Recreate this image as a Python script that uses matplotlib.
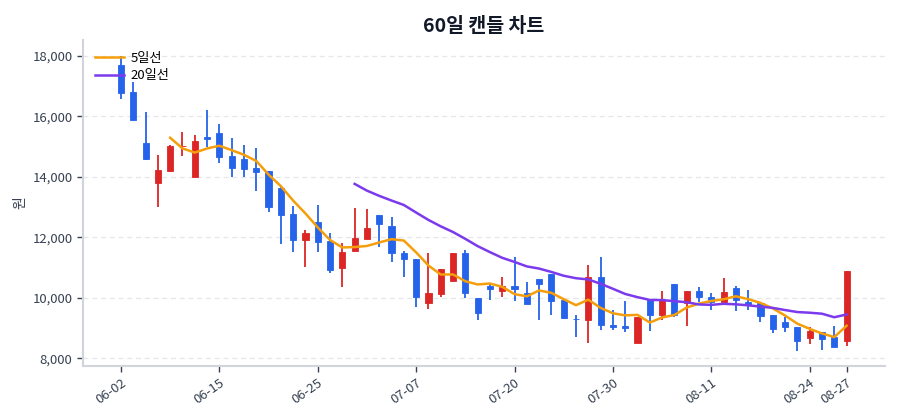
import matplotlib
matplotlib.use("Agg")
import matplotlib.pyplot as plt
import numpy as np
from matplotlib.ticker import FuncFormatter, FixedLocator

plt.rcParams['font.family'] = ['Noto Sans CJK KR', 'DejaVu Sans']

dates = ["06-02", "06-04", "06-05", "06-08", "06-09", "06-10", "06-11", "06-12", "06-15",
         "06-16", "06-17", "06-18", "06-19", "06-22", "06-23", "06-24", "06-25",
         "06-26", "06-29", "06-30", "07-01", "07-02", "07-03", "07-06", "07-07",
         "07-08", "07-09", "07-10", "07-13", "07-14", "07-15", "07-16", "07-20",
         "07-21", "07-22", "07-23", "07-24", "07-27", "07-28", "07-29", "07-30",
         "07-31", "08-03", "08-04", "08-05", "08-06", "08-07", "08-10", "08-11",
         "08-12", "08-13", "08-14", "08-17", "08-18", "08-19", "08-20", "08-24",
         "08-25", "08-26", "08-27"]

opens = [17700, 16790, 15110, 13780, 14180, 15010, 13980, 15300, 15460, 14680,
         14600, 14300, 14190, 13640, 12780, 11910, 12500, 11870, 10970, 11550,
         11940, 12720, 12360, 11490, 11290, 9840, 10130, 10540, 11490, 10000,
         10390, 10240, 10390, 10150, 10610, 10790, 9930, 9310, 9270, 10700,
         9110, 9070, 8520, 9930, 9430, 10440, 9820, 10240, 10010, 9870,
         10310, 9870, 9820, 9420, 9210, 9045, 8680, 8880, 8715, 8580]
highs = [17990, 17120, 16150, 14720, 15050, 15490, 15380, 16190, 15750, 15270,
         15060, 14960, 14190, 13650, 13020, 12250, 13080, 12150, 11800, 12980,
         12945, 12724, 12660, 11560, 11293, 11490, 10940, 11480, 11580, 10004,
         10480, 10700, 11360, 10530, 10610, 10790, 9930, 9420, 11080, 11360,
         9596, 9890, 9365, 9930, 10235, 10440, 10235, 10370, 10150, 10640,
         10390, 10260, 9816, 9420, 9354, 9045, 9045, 8880, 9078, 10896]
lows = [16570, 15860, 14560, 13010, 14170, 14690, 13980, 14990, 14440, 14000,
        13980, 13540, 12840, 11770, 11510, 11030, 11510, 10810, 10360, 11546,
        11940, 11690, 11190, 10680, 9706, 9640, 10037, 10544, 10004, 9266,
        9927, 10037, 9905, 9784, 9266, 9420, 9299, 8715, 8495, 8935,
        8935, 8880, 8516, 8902, 9265, 9376, 9078, 9871, 9596, 9871,
        9574, 9596, 9210, 8847, 8880, 8241, 8461, 8274, 8362, 8406]
closes = [16780, 15870, 14570, 14205, 15008, 15030, 15170, 15250, 14655, 14280,
          14266, 14156, 12995, 12742, 11895, 12137, 11851, 10916, 11510, 11965,
          12317, 12427, 11469, 11271, 10015, 10147, 10940, 11480, 10147, 9486,
          10301, 10389, 10279, 9784, 10455, 9905, 9343, 9288, 10698, 9090,
          9020, 9001, 9365, 9431, 9926, 9431, 10235, 10014, 9871, 10202,
          9926, 9761, 9398, 8957, 9023, 8582, 8902, 8638, 8362, 10896]

ma_windows = [5, 20]
ma_labels = ["5일선", "20일선"]
ma_colors = ["#f59e0b", "#7c3aed"]

up_color = "#dc2626"
down_color = "#2563eb"

fig = plt.figure(figsize=(9, 4.2), dpi=100)
ax = fig.add_axes([0.0922, 0.1286, 0.8908, 0.7764])

x = np.arange(len(dates))
o = np.array(opens, float)
h = np.array(highs, float)
l = np.array(lows, float)
c = np.array(closes, float)

width = 0.5
for i in range(len(x)):
    col = up_color if c[i] >= o[i] else down_color
    ax.vlines(x[i], l[i], h[i], color=col, linewidth=1.3, zorder=2)
    bottom = min(o[i], c[i])
    height = max(abs(c[i] - o[i]), 15)
    ax.bar(x[i], height, width=width, bottom=bottom, color=col,
           edgecolor=col, linewidth=0.6, zorder=3)

s = np.array(closes, float)
for w, lab, colr in zip(ma_windows, ma_labels, ma_colors):
    ma = np.full(len(s), np.nan)
    for i in range(w - 1, len(s)):
        ma[i] = s[i - w + 1:i + 1].mean()
    ax.plot(x, ma, color=colr, linewidth=1.8, label=lab, zorder=4)

ax.set_xlim(-3.09, 62.1)
ax.set_ylim(7746, 18520)
ax.yaxis.set_major_locator(FixedLocator([8000, 10000, 12000, 14000, 16000, 18000]))
ax.yaxis.set_major_formatter(FuncFormatter(lambda v, p: f"{int(v):,}"))

tick_idx = [0, 8, 16, 24, 32, 40, 48, 56, 59]
ax.set_xticks(tick_idx)
ax.set_xticklabels([dates[i] for i in tick_idx], rotation=35, ha='right',
                   rotation_mode='anchor')

ax.grid(axis='y', linestyle=(0, (4, 3)), color='#e5e7eb', linewidth=0.9, zorder=0)
ax.set_axisbelow(True)
for sp in ['top', 'right']:
    ax.spines[sp].set_visible(False)
for sp in ['left', 'bottom']:
    ax.spines[sp].set_color('#d1d5db')
    ax.spines[sp].set_linewidth(1.5)
ax.tick_params(axis='both', colors='#374151', labelsize=9.5, length=4, width=1)

ax.set_ylabel("원", fontsize=10, color='#374151')
ax.set_title("60일 캔들 차트", fontsize=14, fontweight='bold', color='#111827', pad=6)

leg = ax.legend(loc='upper left', frameon=False, fontsize=9.5, handlelength=2.2,
                borderaxespad=0.5, handletextpad=0.5, labelspacing=0.35)

fig.savefig("out.png", dpi=100)
